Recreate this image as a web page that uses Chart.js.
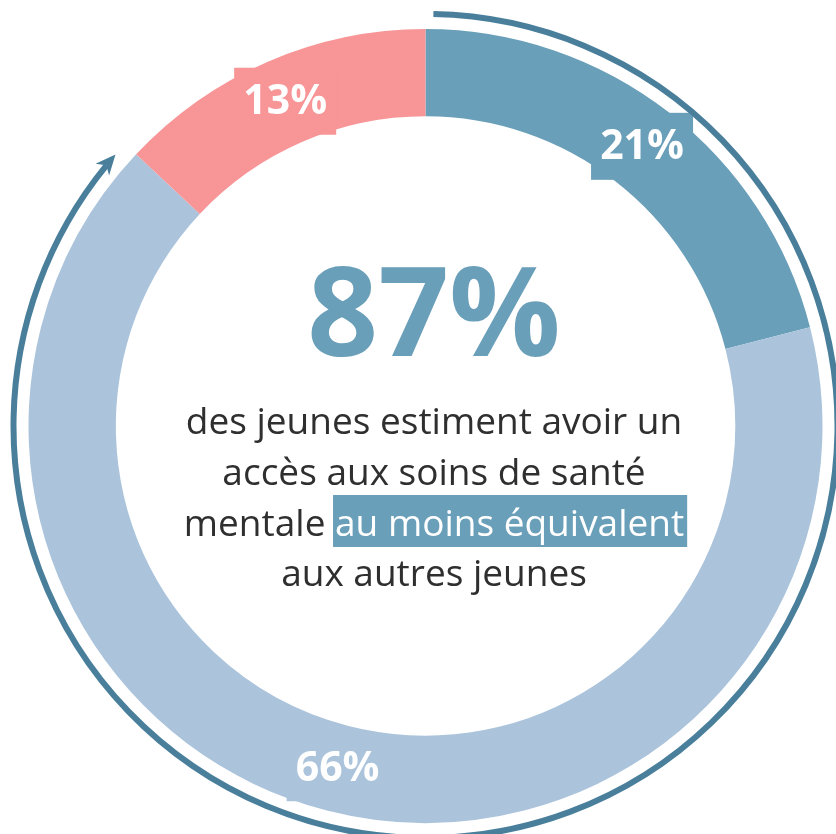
<!DOCTYPE html>
<html>
<head>
<meta charset="utf-8">
<style>
  html, body { margin: 0; padding: 0; background: #ffffff; }
  #wrap { width: 836px; height: 834px; }
</style>
<script src="https://cdn.jsdelivr.net/npm/chart.js@4.4.1/dist/chart.umd.min.js"></script>
</head>
<body>
<div id="wrap"><canvas id="c" width="836" height="834"></canvas></div>
<script>
// ---- data ----
const categories = ['Accès meilleur', 'Accès équivalent', 'Accès moins bon'];
const values = [21, 66, 13];
const valueLabels = ['21%', '66%', '13%'];
const segmentColors = ['#6a9fb9', '#abc4dc', '#f79597'];
const headline = '87%';
const bodyLines = [
  [{ t: 'des jeunes estiment avoir un' }],
  [{ t: 'accès aux soins de santé' }],
  [{ t: 'mentale ' }, { t: 'au moins équivalent', hl: true }],
  [{ t: 'aux autres jeunes' }]
];
const arrowShare = 87; // share covered by the outer arrow

const FONT = '"Open Sans", "Liberation Sans", sans-serif';
const ARROW_COLOR = '#4a7f9c';
const TEXT_COLOR = '#2f2f2f';

const overlay = {
  id: 'overlay',
  afterDatasetsDraw(chart) {
    const ctx = chart.ctx;
    const meta = chart.getDatasetMeta(0);
    const a0 = meta.data[0];
    const cx = a0.x, cy = a0.y, R = a0.outerRadius;

    // label boxes + labels
    meta.data.forEach((arc, i) => {
      const p = arc.getCenterPoint();
      ctx.save();
      ctx.fillStyle = segmentColors[i];
      ctx.fillRect(p.x - 51, p.y - 34, 102, 67);
      ctx.fillStyle = '#ffffff';
      ctx.font = 'bold 41px ' + FONT;
      ctx.textAlign = 'center';
      ctx.textBaseline = 'middle';
      ctx.fillText(valueLabels[i], p.x, p.y + 1);
      ctx.restore();
    });

    // outer arrow arc
    const rA = R + 15;
    const start = -Math.PI / 2 + 1.1 * Math.PI / 180;
    const tipAng = -Math.PI / 2 + (arrowShare / 100) * 2 * Math.PI - 2.0 * Math.PI / 180;
    const headLen = 20;
    const endAng = tipAng - (headLen * 0.7) / rA;
    ctx.save();
    ctx.strokeStyle = ARROW_COLOR;
    ctx.lineWidth = 6;
    ctx.beginPath();
    ctx.arc(cx, cy, rA, start, endAng, false);
    ctx.stroke();
    // arrow head
    const tx = cx + rA * Math.cos(tipAng), ty = cy + rA * Math.sin(tipAng);
    const dx = -Math.sin(tipAng), dy = Math.cos(tipAng); // tangent (clockwise)
    const nx = Math.cos(tipAng), ny = Math.sin(tipAng);   // normal (outward)
    const bx = tx - dx * headLen, by = ty - dy * headLen;
    const w = 9;
    ctx.fillStyle = ARROW_COLOR;
    ctx.beginPath();
    ctx.moveTo(tx, ty);
    ctx.lineTo(bx + nx * w, by + ny * w);
    ctx.lineTo(tx - dx * headLen * 0.7, ty - dy * headLen * 0.7);
    ctx.lineTo(bx - nx * w, by - ny * w);
    ctx.closePath();
    ctx.fill();
    ctx.restore();

    // center text
    const tcx = 434;
    ctx.save();
    ctx.fillStyle = segmentColors[0];
    ctx.font = 'bold 124px ' + FONT;
    ctx.textAlign = 'center';
    ctx.textBaseline = 'alphabetic';
    ctx.fillText(headline, tcx, 356);

    const fs = 37;
    ctx.font = fs + 'px ' + FONT;
    ctx.textAlign = 'left';
    const baselines = [434, 485, 536, 586];
    bodyLines.forEach((parts, li) => {
      const widths = parts.map(p => ctx.measureText(p.t).width);
      const total = widths.reduce((s, v) => s + v, 0);
      let x = tcx - total / 2;
      const y = baselines[li];
      parts.forEach((p, k) => {
        if (p.hl) {
          ctx.fillStyle = segmentColors[0];
          ctx.fillRect(x - 2, y - 41, widths[k] + 5, 52);
          ctx.fillStyle = '#ffffff';
        } else {
          ctx.fillStyle = TEXT_COLOR;
        }
        ctx.fillText(p.t, x, y);
        x += widths[k];
      });
    });
    ctx.restore();
  }
};

new Chart(document.getElementById('c'), {
  type: 'doughnut',
  data: {
    labels: categories,
    datasets: [{
      data: values,
      backgroundColor: segmentColors,
      borderWidth: 0,
      hoverOffset: 0
    }]
  },
  options: {
    responsive: false,
    animation: false,
    cutout: '78%',
    layout: { padding: { left: 28.5, right: 13.5, top: 29, bottom: 11 } },
    plugins: {
      legend: { display: false },
      tooltip: { enabled: false },
      title: { display: false }
    }
  },
  plugins: [overlay]
});
</script>
</body>
</html>
